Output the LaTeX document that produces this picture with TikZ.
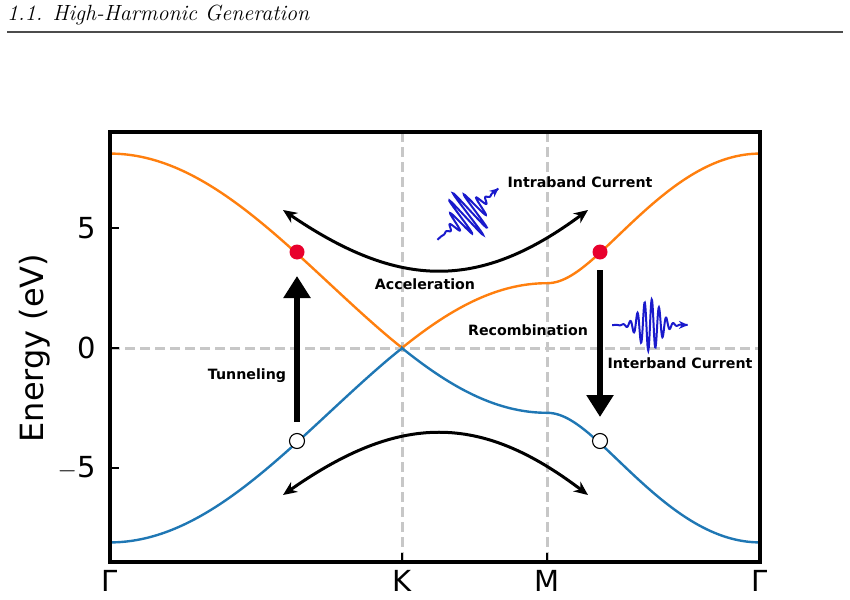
\documentclass[tikz,border=0pt]{standalone}
\usepackage{fontspec}
\newfontfamily\dv{DejaVu Sans}
\usetikzlibrary{arrows.meta}
\definecolor{cband}{HTML}{FF7F0E}
\definecolor{vband}{HTML}{1F77B4}
\definecolor{wave}{HTML}{1A1ACC}
\definecolor{dotred}{HTML}{E8002D}
\begin{document}
\begin{tikzpicture}[x=1pt,y={(0,-1pt)},
  band/.style={line width=2.4pt},
  gridln/.style={draw=black!22,line width=3pt,dash pattern=on 10pt off 5pt},
  lbl/.style={font=\dv\bfseries\fontsize{14.2}{16}\selectfont},
  bendarrow/.style={line width=3pt,{Stealth[length=14pt,width=12pt]}-{Stealth[length=14pt,width=12pt]}},
  bigarrow/.style={line width=6.5pt,-{Triangle[length=22pt,width=26pt]}},
  wv/.style={draw=wave,line width=2pt,-{Stealth[length=9pt,width=8pt]}}]
\useasboundingbox (0,0) rectangle (850,599);
\node[anchor=west,inner sep=0,font=\itshape\fontsize{22}{26}\selectfont] (hdr) at (7,15) {1.1. High-Harmonic Generation};
\draw[black!70,line width=1.2pt] (7,32) -- (843,32);
\clip (0,0) rectangle (850,599);
% grid
\draw[gridln] (402,132) -- (402,562);
\draw[gridln] (547,132) -- (547,562);
\draw[gridln] (110,348) -- (760,348);
% bands
\foreach \sg/\col in {1/cband,-1/vband}{
\draw[band,\col] plot[domain=0:1,samples=120] ({110+292*\x},{348-\sg*24*2.7*sqrt(max(0,3+2*cos(120*\x)+4*cos(60*\x)*cos(180*\x)))})
  -- plot[domain=0:1,samples=80] ({402+145*\x},{348-\sg*24*2.7*sqrt(max(0,3+2*cos(120*(1-\x))-4*cos(60*(1-\x))))})
  -- plot[domain=0:1,samples=100] ({547+213*\x},{348-\sg*24*2.7*sqrt(max(0,5+4*cos(180*(1-\x))))});
}
% frame
\draw[line width=4pt] (110,132) rectangle (760,562);
\foreach \yy in {228,348,468} \draw[line width=2pt] (110,\yy) -- (119,\yy);
\foreach \xx in {110,402,547,760} \draw[line width=2pt] (\xx,562) -- (\xx,553);
\foreach \yy/\t in {228/5,348/0,468/$-$5} \node[anchor=east,font=\dv\fontsize{29}{32}\selectfont] at (99,\yy) {\t};
\foreach \xx/\t in {110/Γ,402/K,547/M,760/Γ} \node[anchor=north,font=\dv\fontsize{29}{32}\selectfont,inner sep=0] at (\xx,570) {\t};
\node[rotate=90,font=\dv\fontsize{32}{36}\selectfont] (ylab) at (35,348) {Energy (eV)};
% points
\node[circle,fill=dotred,inner sep=0,minimum size=15pt] (e1) at (297,252) {};
\node[circle,fill=dotred,inner sep=0,minimum size=15pt] (e2) at (600,252) {};
\node[circle,draw=black,fill=white,line width=1.1pt,inner sep=0,minimum size=15pt] (h1) at (297,441) {};
\node[circle,draw=black,fill=white,line width=1.1pt,inner sep=0,minimum size=15pt] (h2) at (600,441) {};
\coordinate (ua) at (283,210); \coordinate (ub) at (588,210);
\coordinate (la) at (283,495); \coordinate (lb) at (588,495);
\draw[bendarrow] (ua) .. controls (400,290) and (480,290) .. (ub);
\draw[bendarrow] (la) .. controls (400,413) and (480,413) .. (lb);
\coordinate (t1) at (297,422); \coordinate (t2) at (297,276);
\draw[bigarrow] (t1) -- (t2);
\coordinate (r1) at (600,270); \coordinate (r2) at (600,417);
\draw[bigarrow] (r1) -- (r2);
% labels
\node[lbl] (intra) at (580,182) {Intraband Current};
\node[lbl] (acc) at (425,284) {Acceleration};
\node[lbl] (rec) at (528,330) {Recombination};
\node[lbl] (inter) at (680,363) {Interband Current};
\node[lbl] (tun) at (247,376) {Tunneling};
% waves
\begin{scope}[shift={(650,325)}]
\draw[wv] plot[domain=-1:1,samples=200] ({38*\x},{-26*exp(-(\x/0.38)^2)*sin(1900*\x)});
\end{scope}
\begin{scope}[shift={(468,214)},rotate=40]
\draw[wv] plot[domain=-1:1,samples=200] ({40*\x},{-26*exp(-(\x/0.38)^2)*sin(1900*\x)});
\end{scope}
\end{tikzpicture}
\end{document}
